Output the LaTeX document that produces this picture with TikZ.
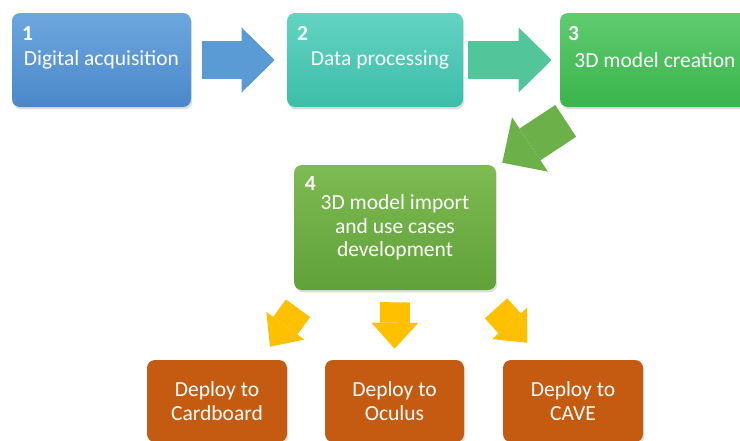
\documentclass[tikz,border=0pt]{standalone}
\usepackage{fontspec}
\setmainfont{Carlito}
\usepackage{tikz}
\usetikzlibrary{calc, arrows.meta, shadows}

\definecolor{acqtop}{HTML}{6EA7DE}
\definecolor{acqbot}{HTML}{4A88CA}
\definecolor{proctop}{HTML}{63D3C2}
\definecolor{procbot}{HTML}{3CBEA8}
\definecolor{crtop}{HTML}{5FCB70}
\definecolor{crbot}{HTML}{3AB44B}
\definecolor{imptop}{HTML}{7EBB52}
\definecolor{impbot}{HTML}{60A139}
\definecolor{deploy}{HTML}{C55A11}
\definecolor{arrblue}{HTML}{5B9BD5}
\definecolor{arrteal}{HTML}{52C59B}
\definecolor{arrgreen}{HTML}{6CB04A}
\definecolor{arryellow}{HTML}{FFC000}

\begin{document}
\begin{tikzpicture}[
    every node/.style={align=center, text=white, font=\fontsize{15.3}{16.8}\selectfont},
    stagebox/.style={rectangle, rounded corners=0.2cm, minimum height=2.35cm, inner sep=0pt,
        drop shadow={opacity=0.25, shadow xshift=0.03cm, shadow yshift=-0.06cm}},
    deploybox/.style={rectangle, rounded corners=0.2cm, fill=deploy, minimum width=3.5cm,
        minimum height=2.05cm, inner sep=0pt,
        drop shadow={opacity=0.25, shadow xshift=0.03cm, shadow yshift=-0.06cm}},
    stagenum/.style={anchor=north west, inner sep=0pt, font=\fontsize{15.3}{16.8}\selectfont\bfseries},
    bigarrow/.style={line width=0.95cm, -{Triangle[length=0.83cm, width=1.63cm, line width=0pt]}},
    smallarrow/.style={line width=0.75cm, color=arryellow, -{Triangle[length=0.65cm, width=1.175cm, line width=0pt]}}
]
    \useasboundingbox (0,0) rectangle (18.5,-11.025);
    \clip (0,0) rectangle (18.5,-11.025);

    % Pipeline stages along the top
    \node[stagebox, top color=acqtop, bottom color=acqbot, minimum width=4.475cm] (acq) at (2.5375,-1.5) {Digital acquisition};
    \node[stagebox, top color=proctop, bottom color=procbot, minimum width=4.4cm] (proc) at (9.375,-1.5) {\hspace{0.25cm}Data processing};
    \node[stagebox, top color=crtop, bottom color=crbot, minimum width=4.75cm] (create) at (16.375,-1.5) {3D model creation};
    \node[stagebox, top color=imptop, bottom color=impbot, minimum width=5.05cm, minimum height=3.125cm] (import) at (9.875,-5.6875) {3D model import\\and use cases\\development};

    % Step numbers in the upper left corners
    \node[stagenum] at ($(acq.north west)+(0.25,-0.34)$) {1};
    \node[stagenum] at ($(proc.north west)+(0.25,-0.34)$) {2};
    \node[stagenum] at ($(create.north west)+(0.2,-0.34)$) {3};
    \node[stagenum] at ($(import.north west)+(0.27,-0.3)$) {4};

    % Deployment targets
    \node[deploybox] (card) at (5.425,-10.025) {Deploy to\\Cardboard};
    \node[deploybox, minimum width=3.475cm] (oculus) at (9.8625,-10.025) {Deploy to\\Oculus};
    \node[deploybox] (cave) at (14.325,-10.025) {Deploy to\\CAVE};

    % Block arrows between the stages
    \draw[bigarrow, color=arrblue, shorten <=0.275cm, shorten >=0.3cm] (acq) -- (proc);
    \draw[bigarrow, color=arrteal, shorten <=0.125cm, shorten >=0.2cm] (proc) -- (create);
    \coordinate (createout) at ($(create.south west)+(0.15,-0.34)$);
    \coordinate (importin) at ($(import.north east)+(0.15,0.05)$);
    \draw[bigarrow, color=arrgreen] (createout) -- (importin);

    % Arrows fanning out to the targets
    \coordinate (cardout) at ($(import.south)+(-2.425,-0.45)$);
    \coordinate (cardin) at ($(card.north)+(1.325,0.325)$);
    \coordinate (caveout) at ($(import.south)+(2.525,-0.45)$);
    \coordinate (cavein) at ($(cave.north)+(-1.15,0.425)$);
    \draw[smallarrow] (cardout) -- (cardin);
    \draw[smallarrow, shorten <=0.3cm, shorten >=0.275cm] (import.south) -- (oculus.north);
    \draw[smallarrow] (caveout) -- (cavein);
\end{tikzpicture}
\end{document}
